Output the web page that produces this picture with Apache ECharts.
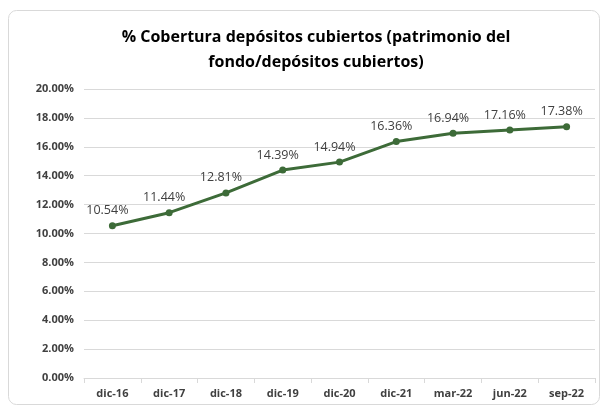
<!DOCTYPE html>
<html>
<head>
<meta charset="utf-8">
<script src="https://cdn.jsdelivr.net/npm/echarts@6/dist/echarts.min.js"></script>
<style>
html,body{margin:0;padding:0;background:#fff;}
#chart{width:606px;height:408px;}
</style>
</head>
<body>
<div id="chart"></div>
<script>
// datos del gráfico
var categorias = ['dic-16','dic-17','dic-18','dic-19','dic-20','dic-21','mar-22','jun-22','sep-22'];
var cobertura = [10.54, 11.44, 12.81, 14.39, 14.94, 16.36, 16.94, 17.16, 17.38];
var titulo = '% Cobertura depósitos cubiertos (patrimonio del\nfondo/depósitos cubiertos)';

var chart = echarts.init(document.getElementById('chart'));
chart.setOption({
	animation: false,
	graphic: [{
		type: 'rect',
		shape: {x: 8.5, y: 10.5, width: 591, height: 394, r: 8},
		style: {fill: 'none', stroke: '#d9d9d9', lineWidth: 1},
		silent: true
	}],
	title: {
		text: titulo,
		left: 311,
		top: 20,
		textAlign: 'center',
		textStyle: {
			fontFamily: 'Open Sans',
			fontSize: 16,
			fontWeight: 'bold',
			color: '#000',
			lineHeight: 25
		}
	},
	grid: {left: 84, right: 11, top: 89, bottom: 30},
	xAxis: {
		type: 'category',
		data: categorias,
		axisLine: {lineStyle: {color: '#d9d9d9'}},
		axisTick: {show: true, lineStyle: {color: '#d9d9d9'}},
		axisLabel: {
			color: '#404040',
			fontFamily: 'Open Sans',
			fontSize: 11,
			fontWeight: 'bold',
			margin: 10
		}
	},
	yAxis: {
		type: 'value',
		min: 0,
		max: 20,
		interval: 2,
		axisLine: {show: false},
		axisTick: {show: false},
		splitLine: {lineStyle: {color: '#d9d9d9'}},
		axisLabel: {
			color: '#404040',
			fontFamily: 'Open Sans',
			fontSize: 11,
			fontWeight: 'bold',
			margin: 10,
			formatter: function(v){ return v.toFixed(2) + '%'; }
		}
	},
	series: [{
		type: 'line',
		data: cobertura,
		symbol: 'circle',
		symbolSize: 7,
		lineStyle: {color: '#3d6b38', width: 3},
		itemStyle: {color: '#3d6b38'},
		label: {
			show: true,
			position: 'top',
			distance: 5,
			offset: [-5, 0],
			color: '#404040',
			fontFamily: 'Open Sans',
			fontSize: 12.5,
			formatter: function(p){ return p.value.toFixed(2) + '%'; }
		}
	}]
});
</script>
</body>
</html>
